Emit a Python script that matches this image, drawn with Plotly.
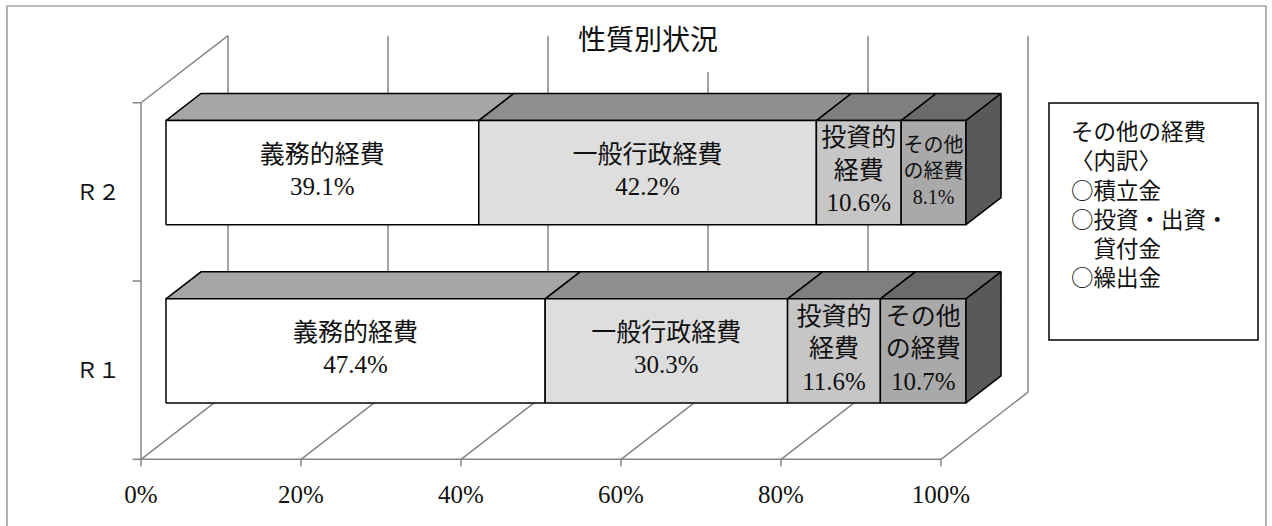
import plotly.graph_objects as go

# ---- data -------------------------------------------------------------
categories = ["Ｒ１", "Ｒ２"]
segment_names = ["義務的経費", "一般行政経費", "投資的経費", "その他の経費"]
segment_labels = ["義務的経費", "一般行政経費", "投資的<br>経費", "その他<br>の経費"]
r1_values = [47.4, 30.3, 11.6, 10.7]
r2_values = [39.1, 42.2, 10.6, 8.1]
x_tick_values = [0, 20, 40, 60, 80, 100]
x_tick_labels = ["0%", "20%", "40%", "60%", "80%", "100%"]
note_lines = ["その他の経費", "〈内訳〉", "○積立金", "○投資・出資・", "　貸付金", "○繰出金"]

# ---- styling ----------------------------------------------------------
front_colors = ["#ffffff", "#dedede", "#c6c6c6", "#a9a9a9"]
top_colors = ["#a6a6a6", "#8f8f8f", "#7f7f7f", "#6b6b6b"]
side_color = "#595959"
grid_color = "#868686"
CJK = "Noto Sans CJK JP"
SERIF_CJK = "Liberation Serif, Noto Sans CJK JP"

# oblique depth projection (x in %, y in category units)
DX, DY = 10.875, 0.3764
D_FRONT, D_BACK = 0.287, 0.69
HALF_H = 0.292

W, H = 1272, 526
L, R, T, B = 131, 241, 35, 56
X_RANGE = [-1.25, 111.25]
Y_RANGE = [-0.56, 1.88]
PLOT_W, PLOT_H = W - L - R, H - T - B


def proj(x, y, d):
    return x + d * DX, y + d * DY


def px_to_paper(px, py):
    return (px - L) / PLOT_W, (H - B - py) / PLOT_H


fig = go.Figure()

# walls, floor and gridlines
gx, gy = [], []
for p in x_tick_values:
    # back wall gridline
    x0, y0 = proj(p, -0.5, 1)
    x1, y1 = proj(p, 1.5, 1)
    gx += [x0, x1, None]
    gy += [y0, y1, None]
    # floor diagonal
    gx += [p, x0, None]
    gy += [-0.5, y0, None]
    # tick mark below floor
    gx += [p, p, None]
    gy += [-0.5, -0.5 - 7 / 178, None]
# front floor edge
gx += [0, 100, None]
gy += [-0.5, -0.5, None]
# left wall edges
tx, ty = proj(0, 1.5, 1)
gx += [0, 0, tx, None]
gy += [-0.5, 1.5, ty, None]
# category boundary ticks
for b in [-0.5, 0.5, 1.5]:
    gx += [-1.05, 0, None]
    gy += [b, b, None]

fig.add_trace(go.Scatter(x=gx, y=gy, mode="lines",
                         line=dict(color=grid_color, width=1.5),
                         hoverinfo="skip", showlegend=False))


def add_face(pts, color):
    xs = [p[0] for p in pts] + [pts[0][0]]
    ys = [p[1] for p in pts] + [pts[0][1]]
    fig.add_trace(go.Scatter(x=xs, y=ys, mode="lines", fill="toself",
                             fillcolor=color,
                             line=dict(color="#000000", width=1.5),
                             hoverinfo="skip", showlegend=False))


label_x, label_y, label_text, label_size = [], [], [], []
for ci, values in enumerate([r1_values, r2_values]):
    yc = ci
    left = 0.0
    for si, v in enumerate(values):
        right = left + v
        yb, yt = yc - HALF_H, yc + HALF_H
        # top face
        add_face([proj(left, yt, D_FRONT), proj(right, yt, D_FRONT),
                  proj(right, yt, D_BACK), proj(left, yt, D_BACK)], top_colors[si])
        # front face
        add_face([proj(left, yb, D_FRONT), proj(right, yb, D_FRONT),
                  proj(right, yt, D_FRONT), proj(left, yt, D_FRONT)], front_colors[si])
        # label on the front face
        cx, cy = proj((left + right) / 2, yc, D_FRONT)
        label_x.append(cx)
        label_y.append(cy)
        label_text.append(f"{segment_labels[si]}<br>{v:.1f}%")
        label_size.append(20 if (v < 9) else 25)
        left = right
    # right side face of the stack
    add_face([proj(left, yc - HALF_H, D_FRONT), proj(left, yc + HALF_H, D_FRONT),
              proj(left, yc + HALF_H, D_BACK), proj(left, yc - HALF_H, D_BACK)], side_color)

fig.add_trace(go.Scatter(x=label_x, y=label_y, mode="text", text=label_text,
                         textposition="middle center",
                         textfont=dict(family=SERIF_CJK, size=label_size, color="#111111"),
                         hoverinfo="skip", showlegend=False, cliponaxis=False))

shapes = []
# outer chart frame
fx0, fy0 = px_to_paper(7, 6)
fx1, fy1 = px_to_paper(1266, 560)
shapes.append(dict(type="rect", xref="paper", yref="paper", x0=fx0, y0=fy1, x1=fx1, y1=fy0,
                   line=dict(color="#7f7f7f", width=1.2), fillcolor="rgba(0,0,0,0)", layer="below"))
# title backing
bx0, by0 = px_to_paper(560, 8)
bx1, by1 = px_to_paper(737, 72)
shapes.append(dict(type="rect", xref="paper", yref="paper", x0=bx0, y0=by1, x1=bx1, y1=by0,
                   line=dict(width=0), fillcolor="#ffffff", layer="above"))
# note box
nx0, ny0 = px_to_paper(1049, 103)
nx1, ny1 = px_to_paper(1258, 340)
shapes.append(dict(type="rect", xref="paper", yref="paper", x0=nx0, y0=ny1, x1=nx1, y1=ny0,
                   line=dict(color="#000000", width=1.5), fillcolor="#ffffff", layer="above"))

# note text as one left-aligned block
note_x, note_y = px_to_paper(1069, 203)
annotations = [dict(text="<br>".join(note_lines), xref="paper", yref="paper",
                    x=note_x, y=note_y, xanchor="left", yanchor="middle", align="left",
                    showarrow=False, font=dict(family=CJK, size=22.5, color="#111111"))]

fig.update_layout(
    width=W, height=H,
    margin=dict(l=L, r=R, t=T, b=B),
    paper_bgcolor="#ffffff", plot_bgcolor="#ffffff",
    showlegend=False, hovermode=False,
    title=dict(text="性質別状況", x=648 / W, xref="container", xanchor="center",
               y=1 - 40 / H, yref="container", yanchor="middle",
               font=dict(family=CJK, size=28, color="#111111")),
    xaxis=dict(range=X_RANGE, tickvals=x_tick_values, ticktext=x_tick_labels,
               showgrid=False, zeroline=False, showline=False, ticks="",
               ticklabelstandoff=7,
               tickfont=dict(family=SERIF_CJK, size=25, color="#111111"), fixedrange=True),
    yaxis=dict(range=Y_RANGE, tickvals=[0, 1], ticktext=categories,
               showgrid=False, zeroline=False, showline=False, ticks="",
               ticklabelstandoff=10,
               tickfont=dict(family=CJK, size=22, color="#111111"), fixedrange=True),
    shapes=shapes,
    annotations=annotations,
)

fig.write_html("out.html")
